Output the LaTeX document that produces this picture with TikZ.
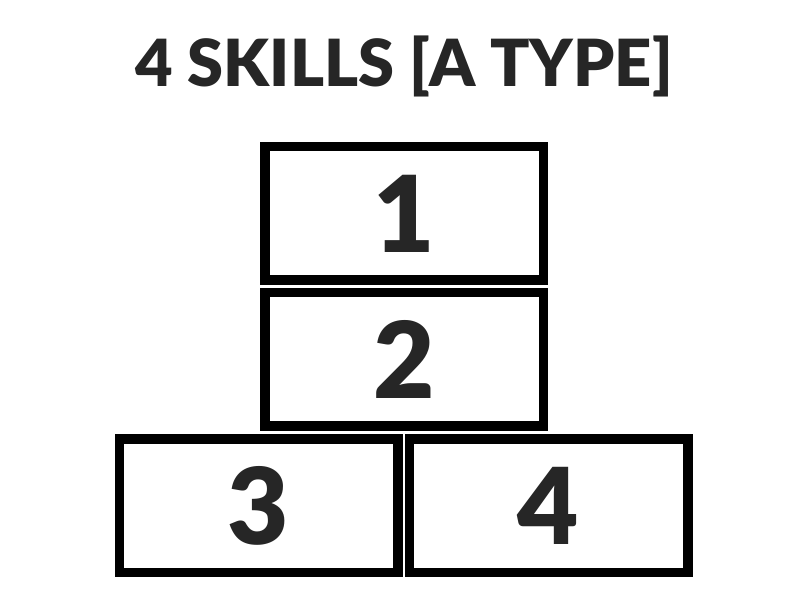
\documentclass[tikz,border=0pt]{standalone}
\usepackage{fontspec}
\setmainfont{Lato}[BoldFont={Lato Black}]
\usetikzlibrary{positioning}
\definecolor{inkgray}{HTML}{262626}

\begin{document}
\begin{tikzpicture}[
    x=1pt, y=1pt,
    node distance=3pt,
    skillbox/.style={
      rectangle, draw=black, line width=9.5pt, fill=white,
      minimum width=278.5pt, minimum height=133.5pt,
      inner sep=0pt, text=inkgray,
      font=\fontsize{106}{106}\selectfont\bfseries
    },
    heading/.style={
      inner sep=0pt, text=inkgray,
      font=\fontsize{65}{65}\selectfont\bfseries
    }
  ]
  \useasboundingbox (0,0) rectangle (800,600);
  % Title
  \node[heading] (title) at (404,534) {4 SKILLS [A TYPE]};
  % Boxes -- top two stacked
  \node[skillbox] (one) at (404,386.5) {1};
  \node[skillbox, below=of one] (two) {2};
  % bottom row -- side by side under box 2
  \node[skillbox, below=of two.south, anchor=north east, xshift=-1.5pt] (three) {3};
  \node[skillbox, right=2pt of three] (four) {4};
\end{tikzpicture}
\end{document}
